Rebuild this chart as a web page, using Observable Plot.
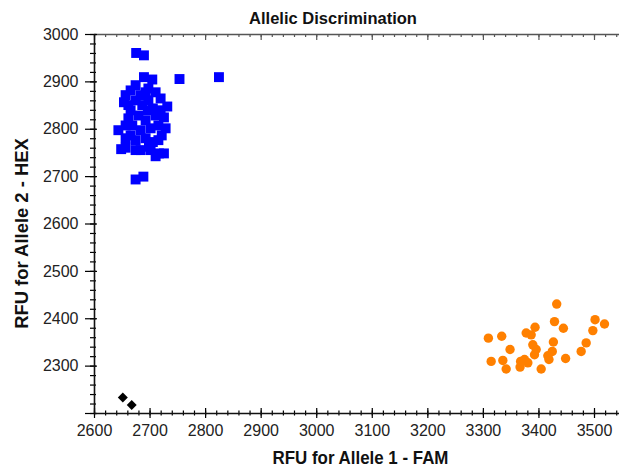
<!DOCTYPE html>
<html><head><meta charset="utf-8">
<script src="https://cdn.jsdelivr.net/npm/d3@7"></script>
<script src="https://cdn.jsdelivr.net/npm/@observablehq/plot@0.6"></script>
<style>
body{margin:0;background:#fff}
svg{font-family:"Liberation Sans",Arial,sans-serif}
</style>
</head><body><div id="chart"></div>
<script>
// Allele 2 (HEX) cluster – blue squares
const hexFam = [2675,2689,2689,2704,2753,2824,2653,2643,2648,2656,2674,2688,2710,2725,2731,2725,2721,2719,
  2665,2674,2683,2697,2705,2665,2679,2692,2710,2668,2683,2701,2715,2674,2692,2705,2683,2661,2697,2710,2665,2696,2698,2716,
  2656,2686,2719,2656,2728,2674,2701,2692,2661,2715,2656,2674];
const hexHex = [2961,2956,2910,2905,2906,2910,2857,2798,2758,2761,2694,2700,2743,2749,2848,2825,2787,2865,
  2882,2861,2872,2861,2844,2840,2829,2819,2829,2808,2798,2802,2808,2777,2781,2773,2756,2823,2886,2878,2787,2840,2763,2749,
  2872,2851,2840,2808,2802,2756,2756,2878,2851,2777,2781,2893];
// Allele 1 (FAM) cluster – orange circles
const famFam = [3309,3333,3314,3335,3341,3348,3367,3374,3366,3377,3386,3393,3389,3395,3392,3404,3418,3424,3426,3428,3432,3444,3448,3476,3485,3497,3501,3518,3416,3380];
const famHex = [2359,2363,2310,2312,2294,2335,2310,2314,2298,2370,2366,2382,2345,2335,2324,2294,2314,2331,2351,2394,2431,2380,2316,2331,2349,2375,2398,2389,2322,2307];
// No call – black diamonds
const ncFam = [2651,2667];
const ncHex = [2234,2218];

const xTicks = [2600,2700,2800,2900,3000,3100,3200,3300,3400,3500];
const yTicks = [2300,2400,2500,2600,2700,2800,2900,3000];
const xMinor = d3.range(2600, 3545, 20);
const yMinor = d3.range(2200, 3001, 20);
const yMajor = yTicks.concat([2200]);

const hex = hexFam.map((x,i)=>({x, y: hexHex[i]}));
const fam = famFam.map((x,i)=>({x, y: famHex[i]}));
const nc = ncFam.map((x,i)=>({x, y: ncHex[i]}));

const fmt = d => String(d);
const W = 619, H = 467, ML = 94, MR = 0, MT = 34, MB = 54;
const FW = W - ML - MR, FH = H - MT - MB;

const chart = Plot.plot({
  width: W, height: H,
  marginLeft: ML, marginRight: MR, marginTop: MT, marginBottom: MB,
  x: {domain: [2600, 3545]},
  y: {domain: [2200, 3000]},
  style: {fontFamily: '"Liberation Sans", Arial, sans-serif', fontSize: "16px", color: "#111", background: "white", overflow: "visible"},
  marks: [
    // top frame line with downward ticks
    Plot.ruleY([3000], {stroke: "#555", strokeWidth: 1.5}),
    Plot.ruleX(xMinor, {x: d => d, stroke: "#555", strokeWidth: 1.2, insetTop: 0, insetBottom: FH - 3}),
    Plot.ruleX(xTicks, {x: d => d, stroke: "#555", strokeWidth: 1.2, insetTop: 0, insetBottom: FH - 6}),
    // bottom axis ticks crossing the line
    Plot.ruleX(xMinor, {x: d => d, stroke: "#000", strokeWidth: 1.2, insetTop: FH - 2.5, insetBottom: -2.5}),
    Plot.ruleX(xTicks, {x: d => d, stroke: "#000", strokeWidth: 1.2, insetTop: FH - 5, insetBottom: -5}),
    Plot.axisX(xTicks, {anchor: "bottom", tickSize: 0, tickPadding: 11, fontSize: 16, label: null, tickFormat: fmt, fill: "#222"}),
    // left axis ticks crossing the line
    Plot.ruleY(yMinor, {y: d => d, stroke: "#000", strokeWidth: 1.2, insetLeft: -4, insetRight: FW - 2}),
    Plot.ruleY(yMajor, {y: d => d, stroke: "#000", strokeWidth: 1.2, insetLeft: -9, insetRight: FW - 3}),
    Plot.axisY(yTicks, {anchor: "left", tickSize: 0, tickPadding: 16, fontSize: 16, label: null, tickFormat: fmt, fill: "#222"}),
    Plot.ruleX([2600], {strokeWidth: 1.6}),
    Plot.ruleY([2200], {strokeWidth: 1.6}),
    Plot.dot(hex, {x: "x", y: "y", symbol: "square", r: 5.6, fill: "#0000ff"}),
    Plot.dot(fam, {x: "x", y: "y", symbol: "circle", r: 4.7, fill: "#ff8000"}),
    Plot.dot(nc, {x: "x", y: "y", symbol: "diamond2", r: 4.5, fill: "#000"}),
    Plot.text(["Allelic Discrimination"], {text: d => d, frameAnchor: "top", dx: -24, dy: -16, lineAnchor: "middle", fontSize: 16.5, fontWeight: "bold"}),
    Plot.text(["RFU for Allele 1 - FAM"], {text: d => d, frameAnchor: "bottom", dx: 3.5, dy: 44, lineAnchor: "middle", fontSize: 19, fontWeight: "bold", className: "xlab"}),
    Plot.text(["RFU for Allele 2 - HEX"], {text: d => d, frameAnchor: "left", dx: -73, dy: 9.5, rotate: -90, lineAnchor: "middle", textAnchor: "middle", fontSize: 19, fontWeight: "bold", className: "ylab"})
  ]
});
d3.select(chart).selectAll(".xlab text").attr("transform", function(){ return (this.getAttribute("transform") || "") + " scale(0.89,1)"; });
d3.select(chart).selectAll(".ylab text").attr("transform", function(){ return (this.getAttribute("transform") || "") + " scale(0.97,1)"; });
document.getElementById("chart").appendChild(chart);
</script>
</body></html>
